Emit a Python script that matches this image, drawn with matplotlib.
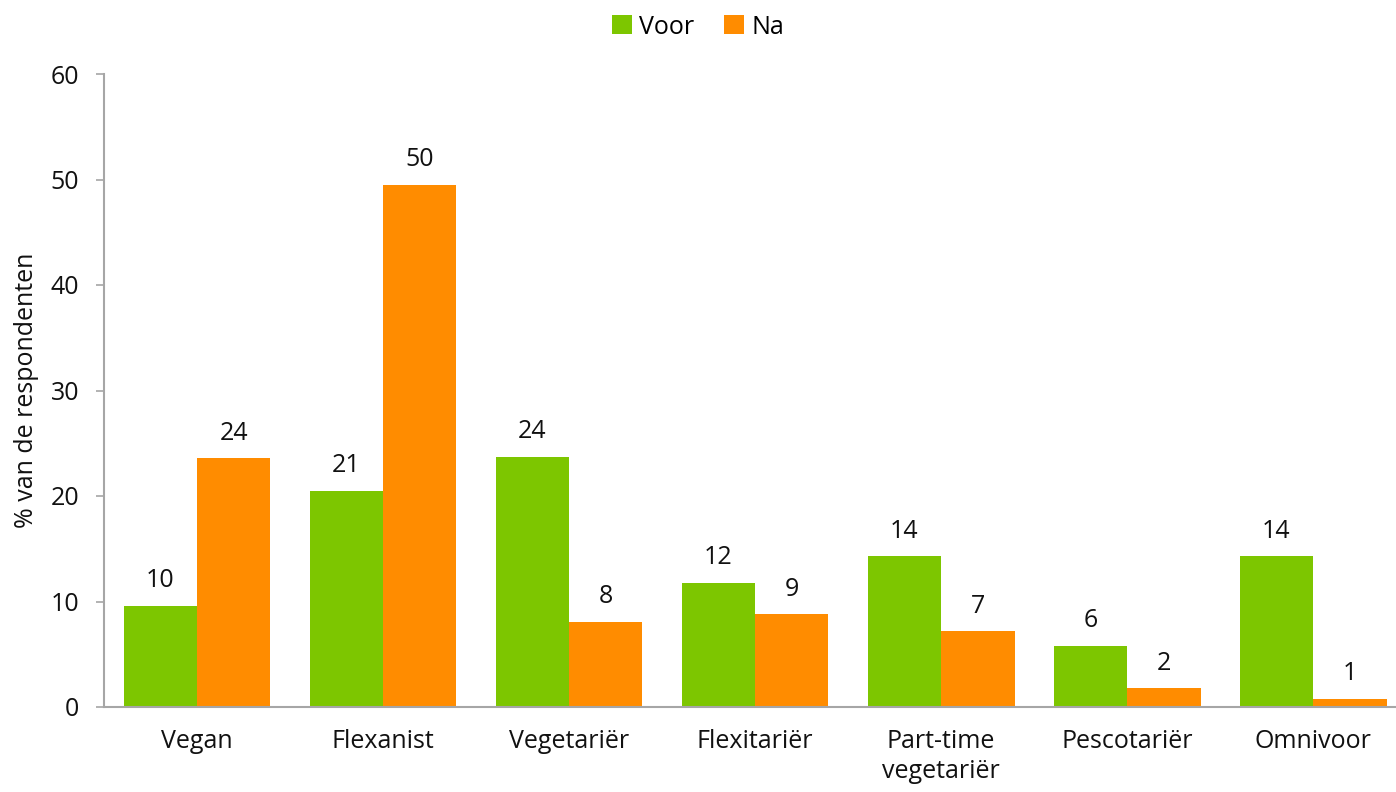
import matplotlib
matplotlib.use("Agg")
import matplotlib.pyplot as plt
import numpy as np

categories = ["Vegan", "Flexanist", "Vegetariër", "Flexitariër", "Part-time\nvegetariër", "Pescotariër", "Omnivoor"]
voor = [9.6, 20.5, 23.7, 11.8, 14.3, 5.8, 14.3]
na = [23.6, 49.5, 8.1, 8.8, 7.2, 1.8, 0.8]
voor_labels = ["10", "21", "24", "12", "14", "6", "14"]
na_labels = ["24", "50", "8", "9", "7", "2", "1"]
yticks = [0, 10, 20, 30, 40, 50, 60]

plt.rcParams['font.family'] = ['Open Sans', 'DejaVu Sans']
green = "#7DC600"
orange = "#FF8C00"
gray = "#A6A6A6"
txt = "#111111"
fs = 18

fig = plt.figure(figsize=(13.96, 7.92), dpi=100)
ax = fig.add_axes([104/1396, 1-707/792, 1-104/1396, (707-74)/792])

x = np.arange(len(categories))
w = 0.395
b1 = ax.bar(x - w/2, voor, w, color=green, label="Voor")
b2 = ax.bar(x + w/2, na, w, color=orange, label="Na")

for rect, lab in zip(b1, voor_labels):
    ax.annotate(lab, (rect.get_x() + rect.get_width()/2, rect.get_height()),
                xytext=(0, 9), textcoords="offset points", ha="center", va="bottom", fontsize=fs, color=txt)
for rect, lab in zip(b2, na_labels):
    ax.annotate(lab, (rect.get_x() + rect.get_width()/2, rect.get_height()),
                xytext=(0, 9), textcoords="offset points", ha="center", va="bottom", fontsize=fs, color=txt)

ax.set_xlim(-0.5, 6.446)
ax.set_ylim(0, 60)
ax.set_yticks(yticks)
ax.set_yticklabels([str(t) for t in yticks], fontsize=fs, color=txt)
ax.set_xticks(x)
ax.set_xticklabels(categories, fontsize=fs, color=txt, linespacing=1.25)
ax.tick_params(axis="x", length=0, pad=16)
ax.tick_params(axis="y", length=6, width=1.2, color=gray, pad=12, direction="out")
for s in ["top", "right"]:
    ax.spines[s].set_visible(False)
for s in ["left", "bottom"]:
    ax.spines[s].set_color(gray)
    ax.spines[s].set_linewidth(1.5)
ax.set_ylabel("% van de respondenten", fontsize=fs, color=txt, labelpad=8)

fig.legend(loc="upper center", bbox_to_anchor=(0.5, 1.01), ncol=2, frameon=False, fontsize=fs,
           handlelength=0.8, handleheight=0.8, handletextpad=0.3, columnspacing=1.2)

fig.savefig("out.png", dpi=100)
